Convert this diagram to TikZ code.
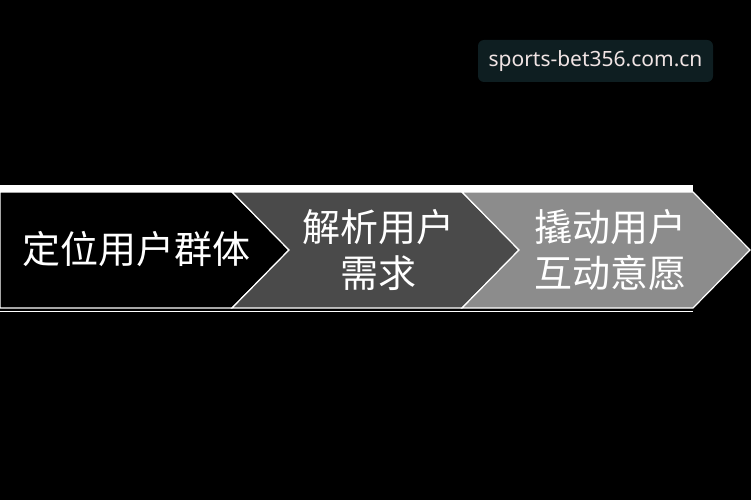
\documentclass[tikz,border=0pt]{standalone}
\usepackage{fontspec}
\usepackage{xcolor}
\usetikzlibrary{positioning}
\newfontfamily\cjkfont{Noto Sans CJK SC}
\newfontfamily\markfont{Noto Sans}
\definecolor{stageone}{RGB}{0, 0, 0}
\definecolor{stagetwo}{RGB}{74, 74, 74}
\definecolor{stagethree}{RGB}{140, 140, 140}
\definecolor{markbg}{RGB}{14, 30, 33}
\definecolor{marktext}{RGB}{240, 228, 228}

\begin{document}
\begin{tikzpicture}[
    x=1pt, y=-1pt,
    chevron/.style={draw=white, line width=1.2pt, line join=miter},
    stagetext/.style={text=white, font=\cjkfont\fontsize{38}{46}\selectfont, align=center, inner sep=0pt},
    watermark/.style={fill=markbg, rounded corners=6pt, text=marktext, font=\markfont\fontsize{21}{24}\selectfont, minimum width=235, minimum height=42, inner sep=0pt}
]
    % Background
    \fill[black] (0,0) rectangle (751,500);
    \useasboundingbox (0,0) rectangle (751,500);

    % Top and bottom rims
    \fill[white] (0,185) rectangle (693,192);
    \draw[white, line width=1pt] (0,311) -- (693,311);

    % Stages
    \draw[chevron, fill=stageone] (0,192) -- (232,192) -- (289,250) -- (232,308) -- (0,308) -- cycle;
    \draw[chevron, fill=stagetwo] (232,192) -- (462,192) -- (519,250) -- (462,308) -- (232,308) -- (289,250) -- cycle;
    \draw[chevron, fill=stagethree] (462,192) -- (693,192) -- (750,250) -- (693,308) -- (462,308) -- (519,250) -- cycle;

    % Stage labels
    \node[stagetext] (locate) at (136,249) {定位用户群体};
    \node[stagetext] (analyse) at (378,250) {解析用户\\需求};
    \node[stagetext] (engage) at (610,250) {撬动用户\\互动意愿};

    % Watermark
    \node[watermark] (mark) at (595.5,61) {sports-bet356.com.cn};
\end{tikzpicture}
\end{document}
